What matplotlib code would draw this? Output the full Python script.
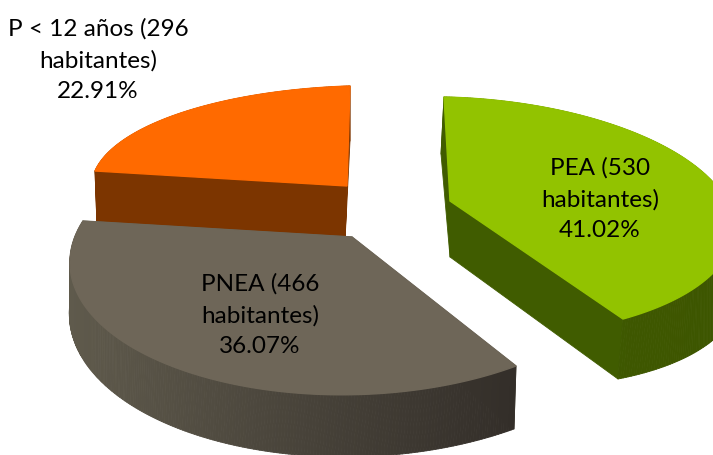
import numpy as np
import matplotlib
matplotlib.use("Agg")
import matplotlib.pyplot as plt
from matplotlib.collections import PolyCollection
from matplotlib.colors import to_rgb
from matplotlib.patches import Polygon

plt.rcParams["font.family"] = ["Lato", "DejaVu Sans"]

names = ["P < 12 años", "PNEA", "PEA"]
habitantes = [296, 466, 530]

top_colors = ["#ff6a00", "#6e6658", "#92c300"]
side_left = ["#7c3500", "#5f5a4c", "#405c00"]
side_right = ["#7c3500", "#332e29", "#3d5500"]

# where apex / first arc end / middle of arc / last arc end land on the picture
top_anchors = [
    [(347, 187), (350, 87), (178, 115), (95, 172)],
    [(352, 238), (83, 222), (174, 368), (516, 367)],
    [(450, 202), (444, 98), (708, 178), (623, 320)],
]
low_anchors = [
    [(345, 242), (350, 142), (180, 170), (97, 227)],
    [(350, 290), (81, 273), (172, 427), (514, 430)],
    [(450, 258), (441, 155), (712, 240), (618, 380)],
]
label_pos = [(98, 60), (260, 315), (600, 199)]


def homography(src, dst):
    A, b = [], []
    for (x, y), (u, v) in zip(src, dst):
        A.append([x, y, 1, 0, 0, 0, -u * x, -u * y])
        A.append([0, 0, 0, x, y, 1, -v * x, -v * y])
        b += [u, v]
    return np.append(np.linalg.solve(np.array(A, float), np.array(b, float)), 1).reshape(3, 3)


def project(H, pts):
    p = H @ np.column_stack([pts, np.ones(len(pts))]).T
    return (p[:2] / p[2]).T


fig = plt.figure(figsize=(7.13, 4.56), dpi=100)
ax = fig.add_axes([0, 0, 1, 1])
ax.set_xlim(0, 713)
ax.set_ylim(456, 0)
ax.axis("off")

total = sum(habitantes)
start = 90.0
for i, n in enumerate(habitantes):
    sweep = 360.0 * n / total
    a0, a1 = np.radians(start), np.radians(start + sweep)
    amid = (a0 + a1) / 2
    src = [(0, 0)] + [(np.cos(a), np.sin(a)) for a in (a0, amid, a1)]

    t = np.linspace(a0, a1, 240)
    disc = np.vstack([[0, 0], np.column_stack([np.cos(t), np.sin(t)]), [0, 0]])
    top = project(homography(src, top_anchors[i]), disc)
    low = project(homography(src, low_anchors[i]), disc)

    # side walls: the straight ones first, then the arc, shaded left to right
    order = [0, len(top) - 2] + list(range(1, len(top) - 2))
    quads = [[top[k], top[k + 1], low[k + 1], low[k]] for k in order]
    xs = top[order, 0]
    f = ((xs - xs.min()) / (xs.max() - xs.min()))[:, None]
    cols = (1 - f) * np.array(to_rgb(side_left[i])) + f * np.array(to_rgb(side_right[i]))
    cols[:2] = to_rgb(side_left[i])
    ax.add_collection(PolyCollection(quads, facecolors=cols, edgecolors=cols, linewidths=0.6, zorder=2 * i + 1))
    ax.add_patch(Polygon(top, closed=True, facecolor=top_colors[i], edgecolor=top_colors[i],
                         linewidth=1.0, zorder=2 * i + 2))

    pct = 100.0 * n / total
    ax.text(label_pos[i][0], label_pos[i][1], f"{names[i]} ({n}\nhabitantes)\n{pct:.2f}%",
            ha="center", va="center", fontsize=17.5, linespacing=1.56, color="#000000", zorder=10)
    start += sweep

fig.savefig("out.png", dpi=100, facecolor="white")
